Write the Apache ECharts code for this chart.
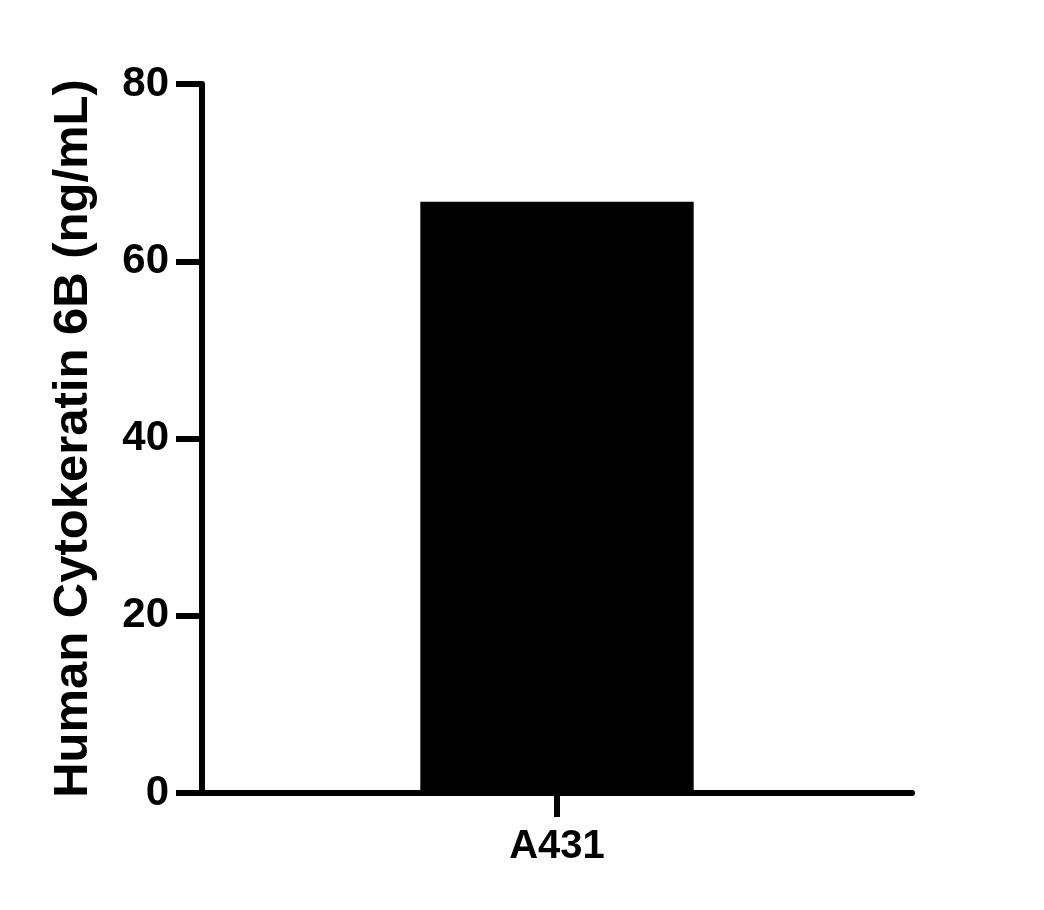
<!DOCTYPE html>
<html>
<head>
<meta charset="utf-8">
<script src="https://cdn.jsdelivr.net/npm/echarts@6/dist/echarts.min.js"></script>
<style>
html,body{margin:0;padding:0;background:#fff;}
#chart{width:1044px;height:910px;}
</style>
</head>
<body>
<div id="chart"></div>
<script>
const categories = ['A431'];
const values = [66.7];
const yTicks = { min: 0, max: 80, interval: 20 };
const yTitle = 'Human Cytokeratin 6B (ng/mL)';

const FONT = 'Arial, "Liberation Sans", sans-serif';
const chart = echarts.init(document.getElementById('chart'), null, { renderer: 'canvas' });
chart.setOption({
  animation: false,
  backgroundColor: '#ffffff',
  grid: { left: 202, right: 132, top: 84, bottom: 117, containLabel: false },
  xAxis: {
    type: 'category',
    data: categories,
    axisLine: { show: true, onZero: false, lineStyle: { color: '#000', width: 6 } },
    axisTick: { show: true, alignWithLabel: true, length: 24, lineStyle: { color: '#000', width: 6 } },
    axisLabel: { color: '#000', fontFamily: FONT, fontWeight: 'bold', fontSize: 40, margin: 34 },
    splitLine: { show: false }
  },
  yAxis: {
    type: 'value',
    min: yTicks.min, max: yTicks.max, interval: yTicks.interval,
    name: yTitle,
    nameLocation: 'middle',
    nameGap: 104,
    nameTextStyle: { color: '#000', fontFamily: FONT, fontWeight: 'bold', fontSize: 49 },
    axisLine: { show: true, lineStyle: { color: '#000', width: 6 } },
    axisTick: { show: true, length: 26, lineStyle: { color: '#000', width: 6 } },
    axisLabel: { color: '#000', fontFamily: FONT, fontWeight: 'bold', fontSize: 42, margin: 33 },
    splitLine: { show: false }
  },
  series: [{
    type: 'bar',
    data: values,
    barWidth: '38.5%',
    itemStyle: { color: '#000' }
  }]
});
</script>
</body>
</html>
